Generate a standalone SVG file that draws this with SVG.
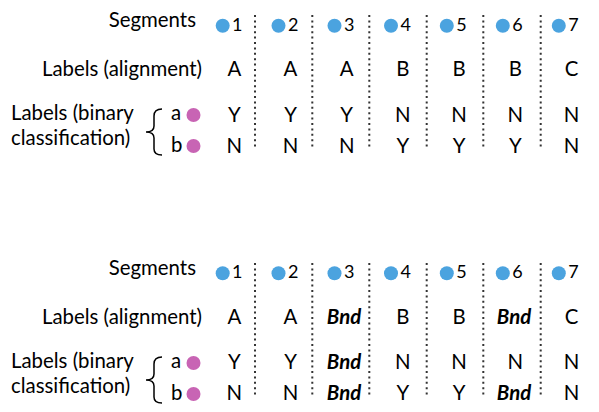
<svg xmlns="http://www.w3.org/2000/svg" width="599" height="412" viewBox="0 0 599 412">
<style>
text{font-family:Lato,"Open Sans","Liberation Sans",sans-serif;font-size:20.4px;fill:#000}
.e{text-anchor:end}
.m{text-anchor:middle}
.b{font-weight:bold;font-style:italic}
.n{font-size:18px}
.seg{fill:#4BA3DF}
.pk{fill:#C864B4}
.dl{stroke:#333;stroke-width:2;stroke-dasharray:2 3.4;fill:none}
.br{stroke:#000;stroke-width:1.5;fill:none}
</style>
<rect width="599" height="412" fill="#fff"/>
<g id="connectors">
<g id="dividers-top">
<line class="dl" x1="255" y1="15" x2="255" y2="148"/>
<line class="dl" x1="312.3" y1="15" x2="312.3" y2="148"/>
<line class="dl" x1="369.3" y1="15" x2="369.3" y2="148"/>
<line class="dl" x1="426.7" y1="15" x2="426.7" y2="148"/>
<line class="dl" x1="483.3" y1="15" x2="483.3" y2="148"/>
<line class="dl" x1="540.7" y1="15" x2="540.7" y2="148"/>
</g>
<g id="dividers-bottom">
<line class="dl" x1="255" y1="263" x2="255" y2="396"/>
<line class="dl" x1="312.3" y1="263" x2="312.3" y2="396"/>
<line class="dl" x1="369.3" y1="263" x2="369.3" y2="396"/>
<line class="dl" x1="426.7" y1="263" x2="426.7" y2="396"/>
<line class="dl" x1="483.3" y1="263" x2="483.3" y2="396"/>
<line class="dl" x1="540.7" y1="263" x2="540.7" y2="396"/>
</g>
</g>
<g id="panel-top">
<g id="row-labels-top">
<text class="e" x="196" y="27">Segments</text>
<text class="e" x="202" y="76.3">Labels (alignment)</text>
<text x="11" y="120">Labels (binary</text>
<text x="11" y="145">classification)</text>
<path class="br" d="M162,109 C157,109 154,111 154,116 L154,126 C154,130 151,132 146,132 C151,132 154,134 154,138 L154,149 C154,153 157,155 162,155"/>
<text x="171" y="120">a</text>
<text x="171" y="152">b</text>
<circle class="pk" cx="193.5" cy="115" r="7"/>
<circle class="pk" cx="193.5" cy="146" r="7"/>
</g>
<g id="segments-top">
<circle class="seg" cx="222.7" cy="25.7" r="7"/><text class="n" x="232" y="30.5">1</text>
<circle class="seg" cx="278.5" cy="25.7" r="7"/><text class="n" x="288" y="30.5">2</text>
<circle class="seg" cx="334.5" cy="25.7" r="7"/><text class="n" x="344" y="30.5">3</text>
<circle class="seg" cx="391" cy="25.7" r="7"/><text class="n" x="400.5" y="30.5">4</text>
<circle class="seg" cx="446.8" cy="25.7" r="7"/><text class="n" x="456.3" y="30.5">5</text>
<circle class="seg" cx="502.8" cy="25.7" r="7"/><text class="n" x="512.3" y="30.5">6</text>
<circle class="seg" cx="558.8" cy="25.7" r="7"/><text class="n" x="568.3" y="30.5">7</text>
</g>
<g id="alignment-top">
<text class="m" x="234.3" y="76.3">A</text>
<text class="m" x="290.5" y="76.3">A</text>
<text class="m" x="346.7" y="76.3">A</text>
<text class="m" x="402.9" y="76.3">B</text>
<text class="m" x="459.1" y="76.3">B</text>
<text class="m" x="515.3" y="76.3">B</text>
<text class="m" x="571.5" y="76.3">C</text>
</g>
<g id="binary-a-top">
<text class="m" x="234.3" y="121.5">Y</text>
<text class="m" x="290.5" y="121.5">Y</text>
<text class="m" x="346.7" y="121.5">Y</text>
<text class="m" x="402.9" y="121.5">N</text>
<text class="m" x="459.1" y="121.5">N</text>
<text class="m" x="515.3" y="121.5">N</text>
<text class="m" x="571.5" y="121.5">N</text>
</g>
<g id="binary-b-top">
<text class="m" x="234.3" y="153">N</text>
<text class="m" x="290.5" y="153">N</text>
<text class="m" x="346.7" y="153">N</text>
<text class="m" x="402.9" y="153">Y</text>
<text class="m" x="459.1" y="153">Y</text>
<text class="m" x="515.3" y="153">Y</text>
<text class="m" x="571.5" y="153">N</text>
</g>
</g>
<g id="panel-bottom">
<g id="row-labels-bottom">
<text class="e" x="196" y="275">Segments</text>
<text class="e" x="202" y="323.5">Labels (alignment)</text>
<text x="11" y="368">Labels (binary</text>
<text x="11" y="393">classification)</text>
<path class="br" d="M162,357 C157,357 154,359 154,364 L154,374 C154,378 151,380 146,380 C151,380 154,382 154,386 L154,397 C154,401 157,403 162,403"/>
<text x="171" y="368">a</text>
<text x="171" y="400">b</text>
<circle class="pk" cx="193.5" cy="363" r="7"/>
<circle class="pk" cx="193.5" cy="394" r="7"/>
</g>
<g id="segments-bottom">
<circle class="seg" cx="222.7" cy="273.3" r="7"/><text class="n" x="232" y="278">1</text>
<circle class="seg" cx="278.5" cy="273.3" r="7"/><text class="n" x="288" y="278">2</text>
<circle class="seg" cx="334.5" cy="273.3" r="7"/><text class="n" x="344" y="278">3</text>
<circle class="seg" cx="391" cy="273.3" r="7"/><text class="n" x="400.5" y="278">4</text>
<circle class="seg" cx="446.8" cy="273.3" r="7"/><text class="n" x="456.3" y="278">5</text>
<circle class="seg" cx="502.8" cy="273.3" r="7"/><text class="n" x="512.3" y="278">6</text>
<circle class="seg" cx="558.8" cy="273.3" r="7"/><text class="n" x="568.3" y="278">7</text>
</g>
<g id="alignment-bottom">
<text class="m" x="234.3" y="323.5">A</text>
<text class="m" x="290.5" y="323.5">A</text>
<text class="m b" x="344" y="323.5">Bnd</text>
<text class="m" x="402.9" y="323.5">B</text>
<text class="m" x="459.1" y="323.5">B</text>
<text class="m b" x="514" y="323.5">Bnd</text>
<text class="m" x="571.5" y="323.5">C</text>
</g>
<g id="binary-a-bottom">
<text class="m" x="234.3" y="368.5">Y</text>
<text class="m" x="290.5" y="368.5">Y</text>
<text class="m b" x="344" y="368.5">Bnd</text>
<text class="m" x="402.9" y="368.5">N</text>
<text class="m" x="459.1" y="368.5">N</text>
<text class="m" x="515.3" y="368.5">N</text>
<text class="m" x="571.5" y="368.5">N</text>
</g>
<g id="binary-b-bottom">
<text class="m" x="234.3" y="400">N</text>
<text class="m" x="290.5" y="400">N</text>
<text class="m b" x="344" y="400">Bnd</text>
<text class="m" x="402.9" y="400">Y</text>
<text class="m" x="459.1" y="400">Y</text>
<text class="m b" x="514" y="400">Bnd</text>
<text class="m" x="571.5" y="400">N</text>
</g>
</g>
</svg>
